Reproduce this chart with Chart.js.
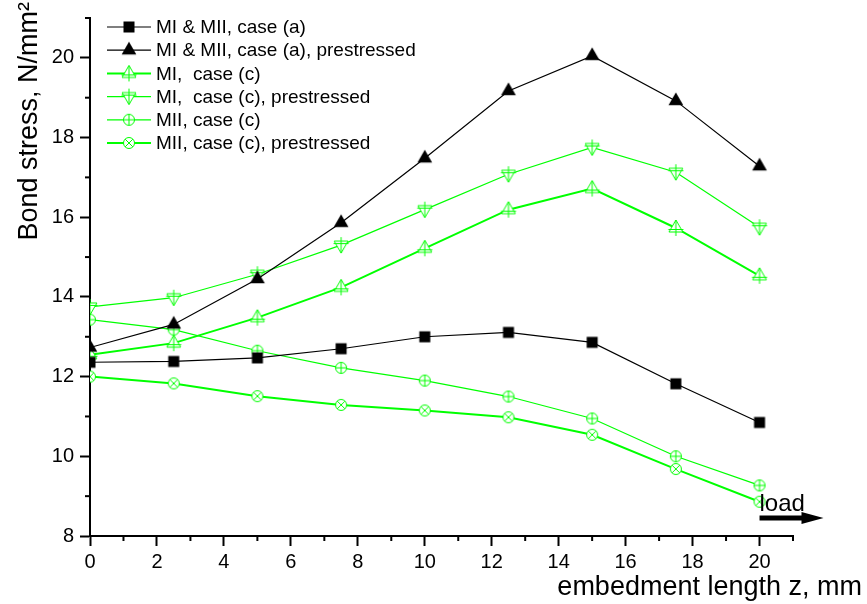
<!DOCTYPE html>
<html>
<head>
<meta charset="utf-8">
<title>Bond stress</title>
<script src="https://cdn.jsdelivr.net/npm/chart.js@4.4.1/dist/chart.umd.min.js"></script>
<style>
    body { margin: 0; background: #fff; }
    canvas { display: block; }
</style>
</head>
<body>
<canvas id="bondChart" width="867" height="604"></canvas>
<script>
// embedment length z, mm
var zValues = [0, 2.5, 5, 7.5, 10, 12.5, 15, 17.5, 20];

// bond stress, N/mm2
var caseA       = [12.36, 12.38, 12.47, 12.70, 13.00, 13.11, 12.86, 11.82, 10.85];
var caseAPre    = [12.73, 13.31, 14.45, 15.86, 17.48, 19.17, 20.05, 18.92, 17.28];
var miCaseC     = [12.55, 12.84, 13.48, 14.24, 15.22, 16.19, 16.72, 15.73, 14.53];
var miCaseCPre  = [13.75, 13.98, 14.57, 15.30, 16.19, 17.08, 17.75, 17.13, 15.75];
var miiCaseC    = [13.43, 13.18, 12.65, 12.22, 11.90, 11.50, 10.95, 10.00, 9.27];
var miiCaseCPre = [12.00, 11.83, 11.51, 11.29, 11.15, 10.98, 10.54, 9.68, 8.86];

var seriesLabels = [
    'MI & MII, case (a)',
    'MI & MII, case (a), prestressed',
    'MI,  case (c)',
    'MI,  case (c), prestressed',
    'MII, case (c)',
    'MII, case (c), prestressed'
];

// axis ticks
var xTicks = [0, 2, 4, 6, 8, 10, 12, 14, 16, 18, 20];
var xMinorTicks = [1, 3, 5, 7, 9, 11, 13, 15, 17, 19, 21];
var yTicks = [8, 10, 12, 14, 16, 18, 20];
var yMinorTicks = [9, 11, 13, 15, 17, 19, 21];

var GREEN = '#00ff00';
var FONT = '"Liberation Sans", Arial, sans-serif';

// Origin-like markers drawn on small canvases
function makeMarker(kind) {
    var c = document.createElement('canvas');
    c.width = 20;
    c.height = 20;
    var ctx = c.getContext('2d');
    var cx = 10, cy = 10;
    var r;
    ctx.lineWidth = 1;
    if (kind === 'square') {
        ctx.fillStyle = '#000';
        ctx.fillRect(cx - 5.5, cy - 5.5, 11, 11);
    } else if (kind === 'triangle') {
        r = 8.5;
        ctx.fillStyle = '#000';
        ctx.beginPath();
        ctx.moveTo(cx, cy - r);
        ctx.lineTo(cx + r * 0.866, cy + r / 2);
        ctx.lineTo(cx - r * 0.866, cy + r / 2);
        ctx.closePath();
        ctx.fill();
    } else if (kind === 'triPlus' || kind === 'triDownPlus') {
        r = 8;
        var s = kind === 'triPlus' ? 1 : -1;
        ctx.strokeStyle = GREEN;
        ctx.fillStyle = '#fff';
        ctx.beginPath();
        ctx.moveTo(cx, cy - s * r);
        ctx.lineTo(cx + r * 0.866, cy + s * r / 2);
        ctx.lineTo(cx - r * 0.866, cy + s * r / 2);
        ctx.closePath();
        ctx.fill();
        ctx.stroke();
        ctx.beginPath();
        ctx.moveTo(cx, cy - r);
        ctx.lineTo(cx, cy + r);
        ctx.moveTo(cx - 7.5, cy + s * 1.5);
        ctx.lineTo(cx + 7.5, cy + s * 1.5);
        ctx.stroke();
    } else {
        r = 5.5;
        ctx.strokeStyle = GREEN;
        ctx.fillStyle = '#fff';
        ctx.beginPath();
        ctx.arc(cx, cy, r, 0, Math.PI * 2);
        ctx.fill();
        ctx.stroke();
        ctx.beginPath();
        if (kind === 'circlePlus') {
            ctx.moveTo(cx - r, cy);
            ctx.lineTo(cx + r, cy);
            ctx.moveTo(cx, cy - r);
            ctx.lineTo(cx, cy + r);
        } else {
            var d = r * 0.7071;
            ctx.moveTo(cx - d, cy - d);
            ctx.lineTo(cx + d, cy + d);
            ctx.moveTo(cx - d, cy + d);
            ctx.lineTo(cx + d, cy - d);
        }
        ctx.stroke();
    }
    return c;
}

function toPoints(values) {
    return zValues.map(function(z, i) { return {x: z, y: values[i]}; });
}

function makeDataset(label, values, color, width, marker) {
    return {
        label: label,
        data: toPoints(values),
        borderColor: color,
        backgroundColor: color,
        borderWidth: width,
        pointStyle: makeMarker(marker),
        pointRadius: 6,
        tension: 0
    };
}

// minor ticks, legend inside the plot, axis titles and the load arrow
var extrasPlugin = {
    id: 'extras',
    afterDraw: function(chart) {
        var ctx = chart.ctx;
        var xs = chart.scales.x;
        var ys = chart.scales.y;
        var area = chart.chartArea;

        ctx.save();
        ctx.strokeStyle = '#000';
        ctx.lineWidth = 2;
        xMinorTicks.forEach(function(v) {
            var px = xs.getPixelForValue(v);
            ctx.beginPath();
            ctx.moveTo(px, area.bottom);
            ctx.lineTo(px, area.bottom + 5);
            ctx.stroke();
        });
        yMinorTicks.forEach(function(v) {
            var py = ys.getPixelForValue(v);
            ctx.beginPath();
            ctx.moveTo(area.left, py);
            ctx.lineTo(area.left - 5, py);
            ctx.stroke();
        });

        // legend
        ctx.font = '19px ' + FONT;
        ctx.textBaseline = 'middle';
        ctx.textAlign = 'left';
        ctx.fillStyle = '#000';
        chart.data.datasets.forEach(function(ds, i) {
            var y = 27 + i * 23.2;
            ctx.strokeStyle = ds.borderColor;
            ctx.lineWidth = ds.borderWidth;
            ctx.beginPath();
            ctx.moveTo(107, y);
            ctx.lineTo(151, y);
            ctx.stroke();
            ctx.drawImage(ds.pointStyle, 129 - 10, y - 10);
            ctx.fillStyle = '#000';
            ctx.fillText(ds.label, 156, y + 1);
        });

        // y axis title
        ctx.save();
        ctx.translate(37, 2);
        ctx.rotate(-Math.PI / 2);
        ctx.font = '27px ' + FONT;
        ctx.textAlign = 'right';
        ctx.textBaseline = 'alphabetic';
        ctx.fillText('Bond stress, N/mm\u00B2', 0, 0);
        ctx.restore();

        // x axis title
        ctx.font = '27px ' + FONT;
        ctx.textAlign = 'right';
        ctx.textBaseline = 'alphabetic';
        ctx.fillText('embedment length z, mm', 862, 595);

        // load arrow
        var ax = xs.getPixelForValue(20);
        var ay = area.bottom - 18;
        ctx.font = '24px ' + FONT;
        ctx.textAlign = 'left';
        ctx.fillText('load', ax, ay - 7);
        ctx.strokeStyle = '#000';
        ctx.lineWidth = 5;
        ctx.beginPath();
        ctx.moveTo(ax, ay);
        ctx.lineTo(ax + 46, ay);
        ctx.stroke();
        ctx.fillStyle = '#000';
        ctx.beginPath();
        ctx.moveTo(ax + 42, ay - 6);
        ctx.lineTo(ax + 64, ay);
        ctx.lineTo(ax + 42, ay + 6);
        ctx.closePath();
        ctx.fill();
        ctx.restore();
    }
};

function axisTicks(values) {
    return function(scale) {
        scale.ticks = values.map(function(v) { return {value: v}; });
    };
}

var ctx = document.getElementById('bondChart').getContext('2d');
var bondChart = new Chart(ctx, {
    type: 'line',
    data: {
        datasets: [
            makeDataset(seriesLabels[0], caseA, '#000', 1.2, 'square'),
            makeDataset(seriesLabels[1], caseAPre, '#000', 1.2, 'triangle'),
            makeDataset(seriesLabels[2], miCaseC, GREEN, 2, 'triPlus'),
            makeDataset(seriesLabels[3], miCaseCPre, GREEN, 1.2, 'triDownPlus'),
            makeDataset(seriesLabels[4], miiCaseC, GREEN, 1.2, 'circlePlus'),
            makeDataset(seriesLabels[5], miiCaseCPre, GREEN, 2, 'circleX')
        ]
    },
    options: {
        responsive: false,
        devicePixelRatio: 1,
        animation: false,
        events: [],
        layout: {
            padding: {left: 0, right: 74, top: 15, bottom: 0}
        },
        plugins: {
            legend: { display: false },
            tooltip: { enabled: false }
        },
        scales: {
            x: {
                type: 'linear',
                min: 0,
                max: 21,
                afterBuildTicks: axisTicks(xTicks),
                afterFit: function(scale) { scale.height = 68; },
                grid: {
                    drawOnChartArea: false,
                    drawTicks: true,
                    tickLength: 10,
                    tickWidth: 2,
                    tickColor: '#000'
                },
                border: { display: true, color: '#000', width: 2 },
                ticks: {
                    color: '#000',
                    font: { family: FONT, size: 20 },
                    padding: 4,
                    maxRotation: 0,
                    autoSkip: false
                }
            },
            y: {
                type: 'linear',
                min: 8,
                max: 21,
                afterBuildTicks: axisTicks(yTicks),
                afterFit: function(scale) { scale.width = 90; },
                grid: {
                    drawOnChartArea: false,
                    drawTicks: true,
                    tickLength: 10,
                    tickWidth: 2,
                    tickColor: '#000'
                },
                border: { display: true, color: '#000', width: 2 },
                ticks: {
                    color: '#000',
                    font: { family: FONT, size: 20 },
                    padding: 6,
                    autoSkip: false
                }
            }
        }
    },
    plugins: [extrasPlugin]
});
</script>
</body>
</html>
